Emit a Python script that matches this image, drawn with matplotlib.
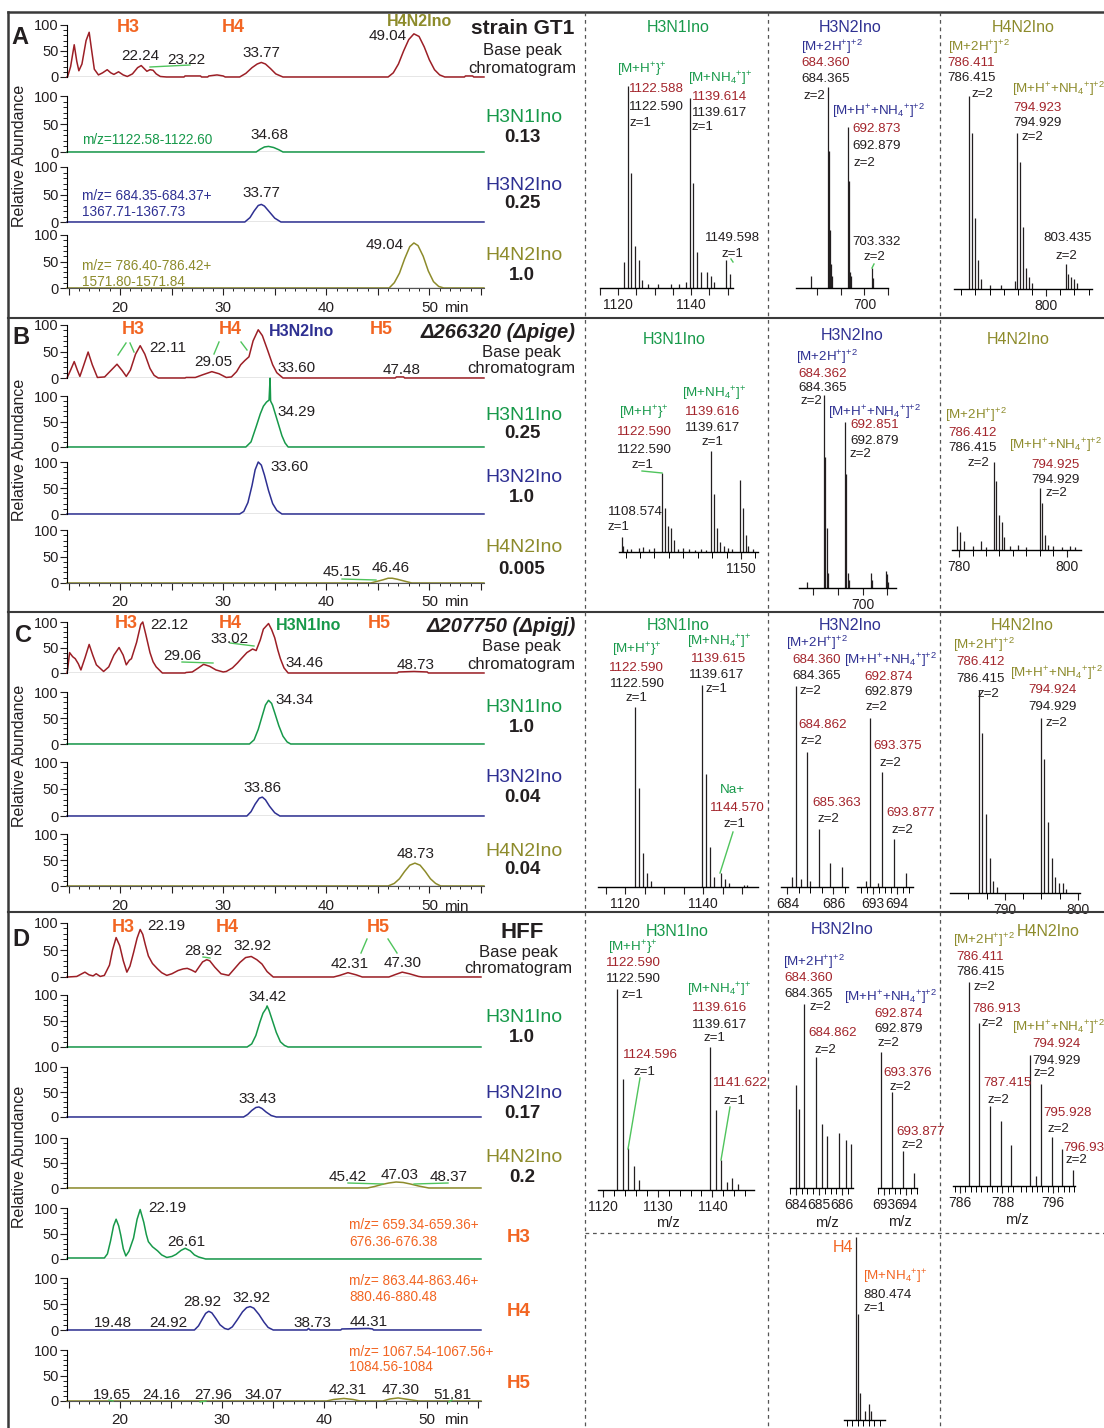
import matplotlib
matplotlib.use("Agg")
import matplotlib.pyplot as plt
from matplotlib.lines import Line2D

plt.rcParams['font.family'] = ['Liberation Sans', 'DejaVu Sans']
plt.rcParams['mathtext.fontset'] = 'custom'
plt.rcParams['mathtext.rm'] = 'Liberation Sans'
plt.rcParams['mathtext.it'] = 'Liberation Sans:italic'
plt.rcParams['mathtext.bf'] = 'Liberation Sans:bold'

W, H = 1104, 1428
TMIN, TMAX = 14.85, 55.3

MAROON = "#9c1f26"
GREEN = "#17994a"
NAVY = "#2e3092"
OLIVE = "#8d8b2b"
ORANGE = "#f26522"
RED = "#a3242b"
LGREEN = "#4fc45c"
K = "#231f20"
GRAY = "#808080"
NARROW = ['Liberation Sans', 'DejaVu Sans']

# ---------------- chromatograms: (retention time min, relative abundance) ----
A_BPC = [(14.9, 0), (15.2, 20), (15.55, 62), (15.8, 30), (16.0, 12), (16.3, 25), (16.7, 70), (17.0, 86),
         (17.25, 50), (17.5, 15), (17.9, 4), (18.3, 8), (18.75, 14), (19.1, 8), (19.4, 5), (19.85, 10),
         (20.3, 4), (20.7, 1), (21.2, 6), (21.7, 18), (22.05, 22), (22.4, 15), (22.6, 11), (22.9, 14),
         (23.2, 13), (23.5, 6), (23.9, 1), (24.5, 0), (26.2, 0), (26.3, 2), (27.8, 2), (27.9, 0), (28.5, 0),
         (28.6, 2), (29.4, 4), (30.0, 2), (30.2, 0), (31.6, 0), (32.2, 7), (32.8, 18), (33.3, 25), (33.7, 28),
         (34.1, 25), (34.6, 16), (35.1, 6), (35.8, 0), (46.0, 0), (46.5, 8), (47.0, 25), (47.5, 50), (48.0, 72),
         (48.5, 83), (49.0, 78), (49.5, 58), (50.0, 33), (50.5, 14), (51.0, 4), (51.5, 0), (53.4, 0), (53.5, 2),
         (54.2, 2), (54.3, 0)]
A_H3N1 = [(33.2, 0), (33.6, 5), (34.0, 9), (34.4, 10), (34.9, 8), (35.4, 4), (35.8, 0)]
A_H3N2 = [(32.1, 0), (32.6, 8), (33.0, 20), (33.4, 30), (33.7, 32), (34.0, 29), (34.5, 18), (35.0, 7), (35.6, 0)]
A_H4N2 = [(46.1, 0), (46.6, 10), (47.1, 28), (47.6, 55), (48.1, 78), (48.5, 85), (48.9, 80), (49.4, 60),
          (49.9, 32), (50.4, 12), (50.9, 3), (51.4, 0)]

B_BPC = [(14.9, 2), (15.2, 15), (15.55, 31), (15.85, 15), (16.1, 3), (16.4, 20), (16.9, 49), (17.3, 25),
         (17.8, 1), (18.5, 2), (19.0, 12), (19.7, 26), (20.2, 14), (20.6, 3), (21.0, 15), (21.5, 45),
         (21.95, 61), (22.4, 45), (22.9, 18), (23.3, 5), (23.7, 0), (26.3, 0), (26.4, 1), (27.3, 1), (28.0, 6),
         (28.9, 12), (29.6, 8), (30.3, 1), (30.8, 2), (31.3, 12), (31.7, 25), (32.1, 33), (32.5, 40),
         (32.9, 70), (33.4, 91), (33.8, 80), (34.3, 53), (34.8, 25), (35.2, 10), (35.8, 0), (46.7, 0),
         (46.8, 2), (47.5, 2), (47.6, 0)]
B_H3N1 = [(32.2, 0), (32.7, 10), (33.2, 40), (33.6, 65), (33.9, 80), (34.2, 88), (34.45, 92), (34.55, 135),
          (34.6, 90), (34.8, 82), (35.1, 62), (35.4, 42), (35.7, 22), (36.0, 8), (36.3, 0)]
B_H3N2 = [(31.6, 0), (32.0, 5), (32.4, 22), (32.8, 55), (33.1, 85), (33.4, 100), (33.7, 94), (34.0, 75),
          (34.4, 45), (34.8, 20), (35.2, 7), (35.7, 0)]
B_H4N2 = [(44.3, 0), (44.9, 3), (45.5, 6), (46.0, 9), (46.4, 9), (46.9, 7), (47.5, 4), (48.3, 0)]

C_BPC = [(14.9, 5), (15.1, 40), (15.4, 32), (15.65, 28), (15.95, 18), (16.2, 6), (16.6, 30), (17.0, 56),
         (17.35, 35), (17.7, 16), (18.4, 3), (18.9, 12), (19.4, 35), (19.9, 50), (20.3, 35), (20.6, 16),
         (20.9, 25), (21.1, 28), (21.6, 60), (22.0, 95), (22.2, 100), (22.5, 75), (22.9, 40), (23.2, 22),
         (23.5, 12), (24.1, 0), (26.3, 0), (26.4, 1), (27.0, 2), (27.6, 10), (28.1, 17), (28.7, 13), (29.3, 6),
         (30.0, 2), (30.3, 3), (30.9, 10), (31.4, 20), (31.75, 28), (32.3, 40), (32.85, 47), (33.2, 44),
         (33.6, 65), (33.9, 86), (34.4, 97), (34.7, 85), (35.0, 69), (35.3, 45), (35.55, 28), (35.9, 10),
         (36.3, 0), (46.9, 0), (47.0, 2), (48.5, 3), (49.8, 2), (49.9, 0)]
C_H3N1 = [(32.55, 0), (33.0, 8), (33.4, 28), (33.8, 55), (34.1, 75), (34.4, 84), (34.7, 78), (35.0, 60),
          (35.4, 35), (35.8, 15), (36.2, 4), (36.55, 0)]
C_H3N2 = [(32.3, 0), (32.7, 8), (33.1, 22), (33.5, 33), (33.8, 35), (34.1, 30), (34.5, 18), (35.0, 6), (35.5, 0)]
C_H4N2 = [(46.0, 0), (46.6, 5), (47.1, 14), (47.6, 28), (48.1, 40), (48.6, 44), (49.1, 40), (49.6, 28),
          (50.1, 14), (50.6, 5), (51.1, 0)]

D_BPC = [(14.9, 0), (15.8, 1), (16.3, 6), (16.6, 9), (17.0, 4), (17.4, 2), (17.7, 6), (18.1, 1), (18.5, 3),
         (19.0, 22), (19.3, 50), (19.65, 73), (20.0, 58), (20.35, 30), (20.7, 9), (21.0, 20), (21.35, 45),
         (21.7, 72), (22.0, 88), (22.25, 79), (22.5, 60), (22.8, 39), (23.2, 25), (23.7, 15), (24.1, 8),
         (24.6, 3), (25.1, 6), (25.7, 12), (26.2, 15), (26.6, 16), (27.0, 13), (27.4, 9), (27.8, 20), (28.1, 28),
         (28.5, 32), (28.8, 30), (29.3, 18), (29.9, 6), (30.65, 3), (31.2, 15), (31.75, 27), (32.3, 36),
         (32.85, 38), (33.4, 32), (33.9, 24), (34.4, 10), (35.0, 0), (40.9, 0), (41.5, 3), (42.3, 8), (43.1, 4),
         (43.7, 0), (46.3, 0), (47.0, 5), (47.6, 9), (48.3, 6), (49.2, 1), (49.6, 0)]
D_H3N1 = [(32.45, 0), (32.9, 6), (33.3, 22), (33.7, 48), (34.0, 65), (34.3, 74), (34.4, 79), (34.6, 70),
          (34.9, 52), (35.3, 28), (35.7, 10), (36.1, 3), (36.45, 0)]
D_H3N2 = [(32.1, 0), (32.5, 5), (32.9, 13), (33.3, 19), (33.6, 20), (33.9, 17), (34.3, 10), (34.8, 3), (35.3, 0)]
D_H4N2 = [(44.2, 0), (44.9, 3), (45.6, 7), (46.3, 10), (47.0, 12), (47.7, 11), (48.4, 8), (49.2, 4), (50.2, 0)]
D_H3 = [(14.9, 2), (18.5, 2), (18.8, 10), (19.1, 35), (19.4, 65), (19.65, 78), (19.9, 65), (20.1, 47),
        (20.35, 20), (20.6, 6), (20.9, 15), (21.35, 41), (21.7, 78), (22.0, 97), (22.35, 72), (22.6, 48),
        (22.8, 34), (23.2, 24), (23.7, 16), (24.1, 8), (24.6, 3), (25.1, 5), (25.5, 9), (26.0, 17), (26.4, 21),
        (26.9, 16), (27.3, 8), (27.7, 4), (28.4, 0)]
D_H4 = [(27.3, 0), (27.7, 8), (28.1, 22), (28.4, 32), (28.7, 36), (29.0, 33), (29.4, 22), (29.8, 10),
        (30.25, 3), (30.6, 1), (31.0, 6), (31.5, 20), (32.0, 35), (32.4, 43), (32.75, 45), (33.1, 42),
        (33.6, 30), (34.1, 15), (34.5, 5), (35.0, 0), (38.3, 0), (38.45, 3), (38.6, 0), (41.6, 0), (41.7, 2),
        (44.3, 3), (44.7, 2), (44.8, 0)]
D_H5 = [(40.2, 0), (40.9, 3), (41.9, 5), (42.8, 3), (43.5, 0), (45.7, 0), (46.4, 4), (47.2, 6), (48.2, 3), (49.2, 0)]

# ---------------- mass spectra: (m/z, relative intensity) ----------------
A_SP1 = [(1121.6, 13), (1122.59, 100), (1123.59, 57), (1124.6, 21), (1125.6, 14), (1126.6, 4), (1128.2, 2),
         (1131.0, 2), (1134.5, 2), (1136.8, 2), (1138.6, 3), (1139.6, 94), (1140.6, 52), (1141.6, 18),
         (1142.6, 8), (1144.5, 8), (1145.5, 6), (1146.3, 3), (1149.6, 14), (1150.6, 7)]
A_SP2 = [(677.4, 6), (684.36, 100), (684.86, 68), (685.36, 29), (685.86, 12), (686.4, 6), (692.87, 80),
         (693.37, 53), (693.87, 8), (694.4, 6), (703.33, 10), (703.83, 5)]
A_SP3 = [(786.41, 100), (786.91, 81), (787.41, 37), (787.91, 15), (788.41, 5), (790.0, 2), (792.0, 2),
         (794.42, 4), (794.92, 81), (795.43, 66), (795.93, 32), (796.43, 11), (796.93, 6), (797.5, 3),
         (803.43, 13), (803.93, 8), (804.43, 6), (804.93, 5), (805.5, 3)]
B_SP1 = [(1108.6, 15), (1109.2, 6), (1110.5, 3), (1112.0, 3), (1114.5, 4), (1116.0, 5), (1118.0, 3),
         (1120.0, 4), (1122.59, 78), (1123.6, 44), (1124.6, 26), (1125.6, 24), (1126.6, 12), (1128.0, 3),
         (1130.0, 4), (1132.0, 3), (1134.0, 2), (1136.0, 3), (1138.0, 2), (1139.6, 100), (1140.6, 57),
         (1141.6, 24), (1142.6, 10), (1144.0, 6), (1145.5, 4), (1147.0, 3), (1149.6, 71), (1150.6, 44),
         (1151.6, 17), (1152.6, 6), (1154.0, 3)]
B_SP2 = [(677.5, 3), (684.36, 100), (684.86, 68), (685.36, 31), (685.86, 8), (692.87, 86), (693.37, 59),
         (693.87, 8), (694.4, 4), (703.3, 8), (703.8, 4), (709.3, 9), (709.8, 7), (710.3, 3)]
B_SP3 = [(779.6, 27), (780.1, 20), (781.0, 10), (782.5, 4), (784.0, 10), (785.0, 3), (786.41, 100),
         (786.91, 78), (787.41, 40), (787.91, 32), (788.41, 15), (789.5, 5), (791.0, 6), (792.5, 3),
         (794.92, 70), (795.42, 53), (795.92, 17), (796.42, 6), (797.5, 4), (799.0, 3), (800.5, 5), (801.5, 3)]
C_SP1 = [(1122.59, 89), (1123.6, 49), (1124.6, 17), (1125.6, 7), (1126.6, 3), (1139.6, 100), (1140.6, 56),
         (1141.6, 20), (1142.6, 5), (1144.57, 7), (1145.6, 4), (1146.6, 2), (1150.5, 1), (1151.2, 1)]
C_SP2A = [(684.2, 5), (684.36, 100), (684.6, 4), (684.86, 67), (685.0, 3), (685.36, 29), (685.86, 12), (686.36, 10)]
C_SP2B = [(692.7, 3), (692.87, 84), (693.2, 2), (693.37, 57), (693.87, 24), (694.37, 7)]
C_SP3 = [(786.41, 100), (786.91, 79), (787.41, 39), (787.91, 17), (788.41, 6), (788.91, 3), (794.92, 86),
         (795.42, 66), (795.92, 35), (796.42, 17), (796.92, 8), (797.42, 5), (797.92, 5), (798.42, 2)]
D_SP1 = [(1122.59, 100), (1123.59, 55), (1124.6, 21), (1125.6, 12), (1126.6, 5), (1139.6, 71), (1140.6, 40),
         (1141.6, 15), (1142.6, 4), (1143.6, 6), (1144.6, 3)]
D_SP2A = [(684.0, 56), (684.15, 43), (684.36, 100), (684.86, 71), (685.14, 35), (685.36, 28), (685.86, 30),
          (686.14, 26), (686.36, 24)]
D_SP2B = [(692.87, 74), (693.37, 52), (693.87, 20), (694.37, 8)]
D_SP3A = [(786.41, 100), (786.91, 80), (787.41, 39), (787.91, 32), (788.41, 20)]
D_SP3B = [(794.92, 64), (795.2, 5), (795.42, 50), (795.93, 24), (796.43, 18), (796.93, 8)]
D_SPH4 = [(880.47, 100), (881.0, 58), (882.0, 15), (883.5, 5), (885.0, 9), (886.0, 5)]

fig = plt.figure(figsize=(W / 100, H / 100), dpi=100)


def fx(x):
    return x / W


def fy(y):
    return 1 - y / H


def txt(x, y, s, color=K, size=11, weight='normal', ha='center', family=None, **kw):
    extra = {'family': family} if family else {}
    fig.text(fx(x), fy(y), s, color=color, fontsize=size, fontweight=weight, ha=ha, va='center', **extra, **kw)


def line(x1, y1, x2, y2, color=LGREEN, lw=1.0, ls='-'):
    fig.add_artist(Line2D([fx(x1), fx(x2)], [fy(y1), fy(y2)], transform=fig.transFigure,
                          color=color, lw=lw, ls=ls))


def px_axes(x0, x1, ytop, ybase):
    return fig.add_axes([fx(x0), fy(ybase), (x1 - x0) / W, (ybase - ytop) / H])


def chrom(x1, ytop, ybase, trace, color, bottom=False):
    ax = px_axes(67, x1, ytop, ybase)
    t = [TMIN] + [p[0] for p in trace] + [TMAX]
    y = [0] + [p[1] for p in trace] + [0]
    ax.axhline(0, color=GRAY, lw=1.0, zorder=1)
    ax.plot(t, y, color=color, lw=1.1, zorder=2, clip_on=False)
    ax.set_xlim(TMIN, TMAX)
    ax.set_ylim(0, 100)
    ax.patch.set_visible(False)
    for s in ['top', 'right']:
        ax.spines[s].set_visible(False)
    ax.spines['left'].set_linewidth(0.8)
    ax.set_yticks([0, 50, 100])
    ax.set_yticklabels(['0', '50', '100'])
    ax.set_yticks(range(0, 101, 10), minor=True)
    ax.tick_params(axis='y', which='major', length=5, width=0.8, pad=1, labelsize=10.5, colors=K)
    ax.tick_params(axis='y', which='minor', length=3, width=0.6)
    if bottom:
        ax.spines['bottom'].set_color('#555555')
        ax.spines['bottom'].set_linewidth(0.8)
        ax.set_xticks(range(15, 56, 5))
        ax.set_xticklabels(['', '20', '', '30', '', '40', '', '50', ''])
        ax.set_xticks(range(15, 56), minor=True)
        ax.tick_params(axis='x', which='major', length=5, width=0.8, pad=4, labelsize=11, colors=K)
        ax.tick_params(axis='x', which='minor', length=2.5, width=0.6)
    else:
        ax.spines['bottom'].set_visible(False)
        ax.set_xticks([])
    return ax


def spectrum(x0, x1, ytop, ybase, lo, hi, peaks, major, labels, minor):
    ax = px_axes(x0, x1, ytop, ybase)
    ax.vlines([p[0] for p in peaks], 0, [p[1] for p in peaks], color=K, lw=0.9)
    ax.set_xlim(lo, hi)
    ax.set_ylim(0, 100)
    ax.patch.set_visible(False)
    for s in ['top', 'right', 'left']:
        ax.spines[s].set_visible(False)
    ax.spines['bottom'].set_linewidth(1.0)
    ax.set_yticks([])
    ax.set_xticks(major)
    ax.set_xticklabels(labels, family=NARROW, fontsize=10)
    ax.set_xticks(minor, minor=True)
    ax.tick_params(axis='x', which='major', length=5, width=0.8, pad=2, colors=K)
    ax.tick_params(axis='x', which='minor', length=4, width=0.7)
    return ax


def frange(a, b, step):
    out = []
    v = a
    while v <= b + 1e-9:
        out.append(round(v, 3))
        v += step
    return out


# ---------------- frame ----------------
line(8, 12, 1104, 12, color='#3a3a3a', lw=1.8)
line(8, 12, 8, 1428, color='#3a3a3a', lw=1.8)
for yy in [318, 612, 912]:
    line(8, yy, 1104, yy, color='#3a3a3a', lw=1.5)
for xx in [585, 768, 940]:
    line(xx, 12, xx, 1428, color='#555555', lw=0.9, ls=(0, (3, 3)))
line(585, 1233, 1104, 1233, color='#555555', lw=0.9, ls=(0, (3, 3)))

# ---------------- chromatograms ----------------
rows_A = [(25, 77, A_BPC, MAROON), (96, 152, A_H3N1, GREEN), (167, 222, A_H3N2, NAVY), (235, 288, A_H4N2, OLIVE)]
rows_B = [(325, 378, B_BPC, MAROON), (396, 447, B_H3N1, GREEN), (462, 514, B_H3N2, NAVY), (530, 583, B_H4N2, OLIVE)]
rows_C = [(622, 673, C_BPC, MAROON), (692, 744, C_H3N1, GREEN), (762, 816, C_H3N2, NAVY), (834, 886, C_H4N2, OLIVE)]
rows_D = [(923, 977, D_BPC, MAROON), (995, 1047, D_H3N1, GREEN), (1067, 1117, D_H3N2, NAVY),
          (1138, 1188, D_H4N2, OLIVE), (1208, 1259, D_H3, GREEN), (1278, 1330, D_H4, NAVY), (1350, 1401, D_H5, OLIVE)]
for rows, x1 in [(rows_A, 484), (rows_B, 484), (rows_C, 484), (rows_D, 481)]:
    for i, (yt, yb, tr, col) in enumerate(rows):
        chrom(x1, yt, yb, tr, col, bottom=(i == len(rows) - 1))

for y in [308, 602, 907, 1420]:
    txt(456, y, 'min', size=11)

for y in [156, 450, 756, 1157]:
    txt(20, y, 'Relative Abundance', size=11.5, rotation=90)

# panel letters
for s, x, y in [('A', 20, 38), ('B', 21, 338), ('C', 23, 635), ('D', 21, 939)]:
    txt(x, y, s, size=17, weight='bold')

# right-side captions of chromatograms
txt(523, 28, 'strain GT1', size=15, weight='bold')
txt(576, 332, 'Δ266320 (Δpige)', size=14.5, weight='bold', ha='right', style='italic')
txt(576, 626, 'Δ207750 (Δpigj)', size=14.5, weight='bold', ha='right', style='italic')
txt(522, 933, 'HFF', size=16, weight='bold')
for x, y1, y2 in [(522, 51, 68), (521, 352, 369), (521, 647, 664), (518, 952, 968)]:
    txt(x, y1, 'Base peak', size=12)
    txt(x, y2, 'chromatogram', size=12)

names = [(117, 137, 'H3N1Ino', GREEN, '0.13'), (185, 204, 'H3N2Ino', NAVY, '0.25'),
         (256, 275, 'H4N2Ino', OLIVE, '1.0'),
         (415, 433, 'H3N1Ino', GREEN, '0.25'), (478, 497, 'H3N2Ino', NAVY, '1.0'),
         (548, 570, 'H4N2Ino', OLIVE, '0.005'),
         (707, 727, 'H3N1Ino', GREEN, '1.0'), (778, 797, 'H3N2Ino', NAVY, '0.04'),
         (851, 870, 'H4N2Ino', OLIVE, '0.04'),
         (1018, 1037, 'H3N1Ino', GREEN, '1.0'), (1093, 1113, 'H3N2Ino', NAVY, '0.17'),
         (1158, 1178, 'H4N2Ino', OLIVE, '0.2')]
for y1, y2, s, col, v in names:
    txt(524, y1, s, color=col, size=14)
    txt(522, y2, v, size=13.5, weight='bold')
for y, s in [(1237, 'H3'), (1311, 'H4'), (1383, 'H5')]:
    txt(519, y, s, color=ORANGE, size=13.5, weight='bold')

# orange group labels in base peak chromatograms
for x, y, s, col in [(128, 27, 'H3', ORANGE), (233, 27, 'H4', ORANGE), (420, 22, 'H4N2Ino', OLIVE),
                     (133, 329, 'H3', ORANGE), (230, 329, 'H4', ORANGE), (301, 332, 'H3N2Ino', NAVY),
                     (381, 330, 'H5', ORANGE),
                     (126, 624, 'H3', ORANGE), (230, 624, 'H4', ORANGE), (309, 625, 'H3N1Ino', GREEN),
                     (379, 624, 'H5', ORANGE),
                     (123, 927, 'H3', ORANGE), (227, 927, 'H4', ORANGE), (378, 927, 'H5', ORANGE)]:
    txt(x, y, s, color=col, size=13 if col == ORANGE else 11.5, weight='bold')

# retention-time labels
rt_labels = [(388, 36, '49.04'), (140, 56, '22.24'), (186, 60, '23.22'), (261, 53, '33.77'), (270, 135, '34.68'),
             (261, 193, '33.77'), (385, 245, '49.04'),
             (168, 348, '22.11'), (213, 362, '29.05'), (297, 368, '33.60'), (402, 370, '47.48'),
             (297, 412, '34.29'), (290, 467, '33.60'), (342, 572, '45.15'), (391, 568, '46.46'),
             (169, 625, '22.12'), (230, 639, '33.02'), (182, 656, '29.06'), (305, 663, '34.46'),
             (416, 665, '48.73'), (295, 700, '34.34'), (263, 788, '33.86'), (416, 854, '48.73'),
             (166, 926, '22.19'), (203, 951, '28.92'), (253, 946, '32.92'), (350, 964, '42.31'),
             (403, 963, '47.30'), (268, 997, '34.42'), (258, 1099, '33.43'), (348, 1177, '45.42'),
             (400, 1175, '47.03'), (449, 1177, '48.37'), (167, 1208, '22.19'), (186, 1242, '26.61'),
             (113, 1323, '19.48'), (168, 1323, '24.92'), (202, 1302, '28.92'), (252, 1298, '32.92'),
             (312, 1323, '38.73'), (369, 1322, '44.31'), (112, 1395, '19.65'), (161, 1395, '24.16'),
             (213, 1395, '27.96'), (263, 1395, '34.07'), (348, 1390, '42.31'), (401, 1390, '47.30'),
             (452, 1395, '51.81')]
for x, y, s in rt_labels:
    txt(x, y, s, size=11)

# m/z window notes
for x, y, s, col in [(82, 140, 'm/z=1122.58-1122.60', GREEN), (82, 196, 'm/z= 684.35-684.37+', NAVY),
                     (82, 212, '1367.71-1367.73', NAVY), (82, 266, 'm/z= 786.40-786.42+', OLIVE),
                     (82, 282, '1571.80-1571.84', OLIVE),
                     (349, 1225, 'm/z= 659.34-659.36+', ORANGE), (349, 1242, '676.36-676.38', ORANGE),
                     (349, 1281, 'm/z= 863.44-863.46+', ORANGE), (349, 1297, '880.46-880.48', ORANGE),
                     (349, 1352, 'm/z= 1067.54-1067.56+', ORANGE), (349, 1367, '1084.56-1084', ORANGE)]:
    txt(x, y, s, color=col, size=9.8, ha='left', family=NARROW)

# leader lines in chromatograms
for seg in [(150, 67, 190, 65), (118, 355, 126, 343), (130, 343, 134, 352), (214, 354, 219, 342),
            (241, 342, 247, 350), (342, 579, 376, 580), (230, 643, 254, 646), (182, 662, 213, 663),
            (203, 957, 210, 958), (367, 939, 361, 953), (388, 939, 397, 953), (348, 1183, 383, 1184),
            (414, 1184, 448, 1183), (109, 1400, 113, 1401), (200, 1402, 206, 1401), (449, 1402, 452, 1400)]:
    line(*seg)

# ---------------- mass spectra ----------------
spectrum(600, 733, 86, 288, 1115, 1151.5, A_SP1, frange(1115, 1150, 5),
         ['', '1120', '', '', '', '1140', '', ''], [])
spectrum(796, 888, 87, 288, 671, 710, A_SP2, [680, 690, 700, 710], ['', '', '700', ''], [])
spectrum(954, 1092, 96, 289, 783.7, 808.1, A_SP3, [800], ['800'], frange(785, 807.5, 2.5))

spectrum(619, 758, 451, 552, 1107.7, 1155.9, B_SP1, [1150], ['1150'], frange(1110, 1155, 5))
spectrum(799, 896, 395, 588, 674.2, 713.5, B_SP2, [680, 690, 700, 710], ['', '', '700', ''], [])
spectrum(952, 1081, 462, 550, 778.7, 802.6, B_SP3, [780, 800], ['780', '800'], frange(782.5, 797.5, 2.5))

spectrum(598, 758, 685, 887, 1113, 1154, C_SP1, frange(1115, 1150, 5),
         ['', '1120', '', '', '', '1140', '', ''], [])
spectrum(781, 848, 686, 887, 683.72, 686.63, C_SP2A, [684, 686], ['684', '686'], frange(684.5, 686.5, 0.5))
spectrum(857, 913, 686, 887, 692.33, 694.66, C_SP2B, [693, 694], ['693', '694'], frange(692.5, 694.5, 0.25))
spectrum(950, 1080, 690, 893, 782.5, 800.3, C_SP3, [790, 800], ['790', '800'], frange(785, 797.5, 2.5))

spectrum(598, 754, 989, 1190, 1119.1, 1147.6, D_SP1, [1120, 1130, 1140], ['1120', '1130', '1140'],
         frange(1120, 1146, 2))
spectrum(790, 853, 1004, 1188, 683.76, 686.46, D_SP2A, [684, 685, 686], ['684', '685', '686'],
         frange(683.75, 686.25, 0.25))
spectrum(878, 917, 1004, 1188, 692.78, 694.5, D_SP2B, [693, 694], ['693', '694'], frange(692.75, 694.5, 0.25))
spectrum(953, 1017, 982, 1186, 785.66, 788.69, D_SP3A, [786, 788], ['786', '788'], frange(785.75, 788.5, 0.25))
spectrum(1018, 1075, 982, 1186, 794.36, 797.03, D_SP3B, [796], ['796'], frange(794.5, 797.0, 0.25))
spectrum(844, 885, 1237, 1420, 876, 891, D_SPH4, [], [], frange(877, 890, 2))

for x, y in [(668, 1223), (827, 1223), (900, 1222), (1017, 1220)]:
    txt(x, y, 'm/z', size=10.5, family=NARROW)

for x, y, s, col in [(678, 27, 'H3N1Ino', GREEN), (850, 27, 'H3N2Ino', NAVY), (1023, 27, 'H4N2Ino', OLIVE),
                     (674, 339, 'H3N1Ino', GREEN), (852, 336, 'H3N2Ino', NAVY), (1018, 339, 'H4N2Ino', OLIVE),
                     (678, 626, 'H3N1Ino', GREEN), (850, 626, 'H3N2Ino', NAVY), (1022, 626, 'H4N2Ino', OLIVE),
                     (677, 931, 'H3N1Ino', GREEN), (842, 930, 'H3N2Ino', NAVY), (1048, 932, 'H4N2Ino', OLIVE),
                     (843, 1247, 'H4', ORANGE)]:
    txt(x, y, s, color=col, size=11.5)

MH = '[M+H$^{+}$}$^{+}$'
MNH4 = '[M+NH$_4$$^{+}$]$^{+}$'
M2H = '[M+2H$^{+}$]$^{+2}$'
MHNH4 = '[M+H$^{+}$+NH$_4$$^{+}$]$^{+2}$'

spec_labels = [
    (617, 70, MH, GREEN), (629, 89, '1122.588', RED), (629, 107, '1122.590', K), (629, 123, 'z=1', K),
    (688, 79, MNH4, GREEN), (692, 97, '1139.614', RED), (692, 113, '1139.617', K), (692, 127, 'z=1', K),
    (705, 238, '1149.598', K), (721, 254, 'z=1', K),
    (801, 47, M2H, NAVY), (801, 63, '684.360', RED), (801, 79, '684.365', K), (804, 96, 'z=2', K),
    (832, 111, MHNH4, NAVY), (852, 129, '692.873', RED), (852, 146, '692.879', K), (854, 163, 'z=2', K),
    (852, 242, '703.332', K), (863, 257, 'z=2', K),
    (948, 47, M2H, OLIVE), (947, 63, '786.411', RED), (947, 78, '786.415', K), (972, 94, 'z=2', K),
    (1012, 89, MHNH4, OLIVE), (1013, 108, '794.923', RED), (1013, 123, '794.929', K), (1022, 137, 'z=2', K),
    (1043, 238, '803.435', K), (1056, 256, 'z=2', K),

    (619, 413, MH, GREEN), (617, 432, '1122.590', RED), (617, 450, '1122.590', K), (632, 465, 'z=1', K),
    (608, 512, '1108.574', K), (608, 527, 'z=1', K),
    (682, 394, MNH4, GREEN), (685, 412, '1139.616', RED), (685, 428, '1139.617', K), (701, 442, 'z=1', K),
    (796, 357, M2H, NAVY), (798, 374, '684.362', RED), (798, 388, '684.365', K), (801, 401, 'z=2', K),
    (828, 412, MHNH4, NAVY), (850, 425, '692.851', RED), (850, 441, '692.879', K), (850, 454, 'z=2', K),
    (945, 415, M2H, OLIVE), (948, 433, '786.412', RED), (948, 448, '786.415', K), (968, 463, 'z=2', K),
    (1009, 445, MHNH4, OLIVE), (1031, 465, '794.925', RED), (1031, 480, '794.929', K), (1046, 493, 'z=2', K),

    (612, 650, MH, GREEN), (609, 668, '1122.590', RED), (610, 684, '1122.590', K), (625, 698, 'z=1', K),
    (687, 642, MNH4, GREEN), (691, 659, '1139.615', RED), (689, 675, '1139.617', K), (705, 689, 'z=1', K),
    (720, 790, 'Na+', GREEN), (710, 808, '1144.570', RED), (723, 824, 'z=1', K),
    (786, 643, M2H, NAVY), (792, 660, '684.360', RED), (792, 676, '684.365', K), (800, 691, 'z=2', K),
    (844, 660, MHNH4, NAVY), (864, 677, '692.874', RED), (864, 692, '692.879', K), (866, 707, 'z=2', K),
    (798, 725, '684.862', RED), (801, 741, 'z=2', K), (812, 803, '685.363', RED), (817, 819, 'z=2', K),
    (873, 746, '693.375', RED), (879, 763, 'z=2', K), (886, 813, '693.877', RED), (891, 830, 'z=2', K),
    (953, 645, M2H, OLIVE), (956, 662, '786.412', RED), (956, 679, '786.415', K), (978, 694, 'z=2', K),
    (1010, 673, MHNH4, OLIVE), (1028, 690, '794.924', RED), (1028, 707, '794.929', K), (1045, 723, 'z=2', K),

    (608, 948, MH, GREEN), (606, 963, '1122.590', RED), (606, 979, '1122.590', K), (621, 995, 'z=1', K),
    (687, 990, MNH4, GREEN), (692, 1008, '1139.616', RED), (692, 1025, '1139.617', K), (703, 1038, 'z=1', K),
    (623, 1055, '1124.596', RED), (634, 1072, 'z=1', K), (713, 1083, '1141.622', RED), (723, 1101, 'z=1', K),
    (783, 962, M2H, NAVY), (784, 978, '684.360', RED), (784, 994, '684.365', K), (809, 1007, 'z=2', K),
    (844, 997, MHNH4, NAVY), (874, 1014, '692.874', RED), (874, 1029, '692.879', K), (877, 1043, 'z=2', K),
    (808, 1033, '684.862', RED), (814, 1050, 'z=2', K), (883, 1073, '693.376', RED), (889, 1087, 'z=2', K),
    (896, 1132, '693.877', RED), (901, 1145, 'z=2', K),
    (953, 940, M2H, OLIVE), (956, 957, '786.411', RED), (956, 972, '786.415', K), (974, 987, 'z=2', K),
    (972, 1009, '786.913', RED), (982, 1023, 'z=2', K),
    (1012, 1027, MHNH4, OLIVE), (1032, 1044, '794.924', RED), (1032, 1061, '794.929', K), (1033, 1073, 'z=2', K),
    (983, 1083, '787.415', RED), (988, 1100, 'z=2', K), (1043, 1113, '795.928', RED), (1048, 1129, 'z=2', K),
    (1063, 1148, '796.932', RED), (1065, 1160, 'z=2', K),
    (863, 1277, MNH4, ORANGE), (863, 1295, '880.474', K), (863, 1308, 'z=1', K),
]
for x, y, s, col in spec_labels:
    txt(x, y, s, color=col, size=9.6, ha='left', family=NARROW)

for seg in [(642, 471, 662, 473), (733, 832, 720, 873), (640, 1078, 628, 1149), (730, 1107, 721, 1160),
            (731, 259, 733, 262), (874, 264, 872, 268)]:
    line(*seg)

fig.savefig('out.png', dpi=100)
